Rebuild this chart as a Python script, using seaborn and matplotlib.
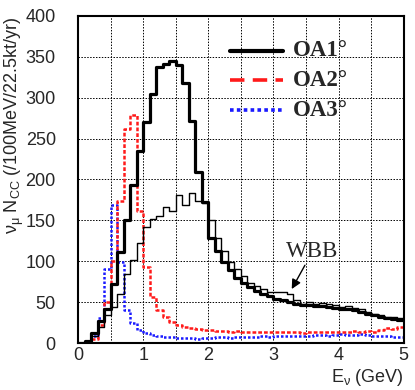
import numpy as np
import pandas as pd
import matplotlib
matplotlib.use("Agg")
import matplotlib.pyplot as plt
from matplotlib.ticker import MultipleLocator
import seaborn as sns

# 100 MeV bins, 0 - 5 GeV
bin_edges = [round(0.1 * i, 2) for i in range(51)]
bin_centers = [round(0.1 * i + 0.05, 3) for i in range(50)]

# events / 100MeV / 22.5kt / yr
oa1 = [0, 2, 12, 27, 42, 72, 111, 150, 193, 235,
       270, 305, 337, 341, 345, 340, 318, 272, 209, 172,
       128, 113, 99, 89, 80, 73, 68, 64, 60, 57,
       54, 52, 50, 48, 47, 46, 45, 45, 44, 43,
       42, 41, 40, 38, 36, 34, 32, 30, 29, 28]
oa2 = [0, 0, 5, 22, 50, 100, 174, 262, 279, 162,
       93, 56, 40, 32, 26, 22, 20, 18, 17, 16,
       16, 15, 15, 14, 15, 14, 14, 13, 14, 13,
       13, 14, 13, 13, 12, 13, 14, 13, 14, 13,
       14, 14, 15, 14, 15, 14, 16, 18, 17, 20]
oa3 = [0, 0, 9, 30, 90, 169, 99, 40, 25, 16,
       12, 10, 8, 7, 7, 6, 6, 6, 5, 6,
       6, 7, 7, 6, 7, 7, 7, 7, 8, 7,
       8, 8, 8, 9, 8, 9, 10, 10, 9, 10,
       11, 10, 10, 11, 10, 9, 8, 8, 7, 7]
wbb = [0, 1, 8, 20, 34, 44, 60, 85, 101, 122,
       142, 152, 155, 166, 161, 181, 169, 183, 174, 171,
       150, 128, 112, 99, 91, 82, 74, 70, 66, 62,
       63, 63, 60, 52, 48, 50, 48, 49, 48, 47,
       44, 45, 43, 42, 38, 35, 34, 32, 32, 30]

legend_labels = ["OA1°", "OA2°", "OA3°"]

df = pd.DataFrame({"E": bin_centers, "OA1": oa1, "OA2": oa2, "OA3": oa3, "WBB": wbb})

sns.set_style("white")
plt.rcParams['font.family'] = ['Liberation Sans', 'DejaVu Sans']
plt.rcParams['mathtext.fontset'] = 'custom'
plt.rcParams['mathtext.rm'] = 'Liberation Sans'
plt.rcParams['mathtext.it'] = 'Liberation Sans'

fig = plt.figure(figsize=(4.15, 3.9), dpi=100)
ax = fig.add_axes([0.188, 0.1205, 0.785, 0.8385])

# dotted grid every 0.5 GeV / 50 events
for gx in np.arange(0.5, 5.0, 0.5):
    ax.axvline(gx, color="black", lw=0.7, ls=(0, (1.5, 1.5)), zorder=0)
for gy in np.arange(50, 400, 50):
    ax.axhline(gy, color="black", lw=0.7, ls=(0, (1.5, 1.5)), zorder=0)

styles = [
    ("OA3", "#1a1aff", 1.8, (0, (1, 0.8))),
    ("OA2", "#ff1a1a", 1.8, (0, (1.5, 0.8))),
    ("WBB", "black", 1.0, "-"),
    ("OA1", "black", 2.3, "-"),
]
for col, color, lw, ls in styles:
    sns.histplot(data=df, x="E", weights=col, bins=bin_edges, element="step",
                 fill=False, color=color, linewidth=lw, linestyle=ls, ax=ax)

ax.set_xlim(0, 5)
ax.set_ylim(0, 400)
ax.xaxis.set_major_locator(MultipleLocator(1))
ax.xaxis.set_minor_locator(MultipleLocator(0.1))
ax.yaxis.set_major_locator(MultipleLocator(50))
ax.yaxis.set_minor_locator(MultipleLocator(25))
ax.tick_params(which="major", direction="in", length=8, width=1, labelsize=13)
ax.tick_params(which="minor", direction="in", length=4, width=1)
ax.tick_params(axis="y", which="major", pad=16)
ax.tick_params(axis="x", which="major", pad=3)
for sp in ax.spines.values():
    sp.set_linewidth(1.5)
    sp.set_color("black")

ax.set_xlabel(r"E$_{ν}$ (GeV)", loc="right", fontsize=13, labelpad=2)
ax.set_ylabel(r"ν$_{μ}$ N$_{\rm CC}$ (/100MeV/22.5kt/yr)", loc="top", fontsize=13)
ax.yaxis.set_label_coords(-0.16, 1.0)

# legend drawn by hand, no frame
leg_styles = [("black", "-", 3.0), ("#ff1a1a", (0, (4, 2.3)), 2.6), ("#1a1aff", (0, (1, 0.9)), 2.6)]
for i, (lab, (c, ls, lw)) in enumerate(zip(legend_labels, leg_styles)):
    yy = 0.894 - i * 0.091
    ax.plot([0.468, 0.629], [yy, yy], transform=ax.transAxes, color=c, ls=ls, lw=lw)
    ax.text(0.66, yy, lab, transform=ax.transAxes, va="center", ha="left",
            fontsize=16.5, fontweight="bold", family="Liberation Serif")

ax.annotate("WBB", xy=(3.28, 66), xytext=(3.6, 112), ha="center", va="center",
            fontsize=16.5, family="Liberation Serif",
            arrowprops=dict(arrowstyle="-|>", color="black", lw=1.0,
                            mutation_scale=14, shrinkA=0, shrinkB=0))

fig.savefig("out.png", dpi=100)
